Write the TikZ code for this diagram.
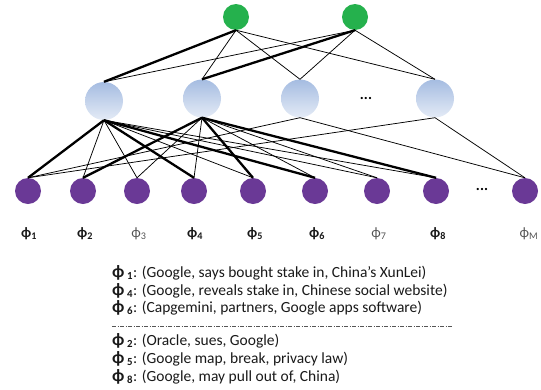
\documentclass[tikz,border=0pt]{standalone}
\usepackage{fontspec}
\setmainfont{Carlito}
\definecolor{topgreen}{RGB}{37,177,77}
\definecolor{wordpurple}{RGB}{106,57,150}
\definecolor{bluetop}{RGB}{165,188,225}
\definecolor{bluebot}{RGB}{228,235,246}
\definecolor{txt}{RGB}{25,25,25}
\definecolor{lbgrey}{RGB}{85,85,85}
\tikzset{
  topnode/.style={circle,fill=topgreen,minimum size=26pt,inner sep=0pt,draw=none},
  topicnode/.style={circle,top color=bluetop,bottom color=bluebot,minimum size=38pt,inner sep=0pt,draw=none},
  wordnode/.style={circle,fill=wordpurple,minimum size=26pt,inner sep=0pt,draw=none},
  thin edge/.style={line width=0.75pt,black},
  thick edge/.style={line width=2.3pt,black},
  lab/.style={font=\fontsize{14.5}{16}\selectfont\bfseries,text=txt,inner sep=0pt},
  labg/.style={font=\fontsize{14.5}{16}\selectfont,text=lbgrey,inner sep=0pt},
  legend/.style={font=\fontsize{15.5}{18}\selectfont,text=txt,anchor=base west,inner sep=0pt},
  dotsnode/.style={font=\fontsize{15}{16}\selectfont\bfseries,inner sep=0pt}
}
\newcommand{\phisub}[1]{ϕ\textsubscript{#1}}
\newcommand{\bigphi}{{\fontsize{17.5}{18}\selectfont ϕ}}
\begin{document}
\begin{tikzpicture}[x=1pt,y=-1pt]
\useasboundingbox (0,0) rectangle (541,389);
% top nodes
\node[topnode] (g1) at (236,17) {};
\node[topnode] (g2) at (355,17) {};
% topic nodes
\node[topicnode] (b1) at (104,101) {};
\node[topicnode] (b2) at (202,98.5) {};
\node[topicnode] (b3) at (300,98.5) {};
\node[topicnode] (b4) at (435,98.5) {};
\node[dotsnode] (bdots) at (366,98) {...};
% word nodes
\node[wordnode] (p1) at (28,191) {};
\node[wordnode] (p2) at (83,191) {};
\node[wordnode] (p3) at (137,191) {};
\node[wordnode] (p4) at (194,191) {};
\node[wordnode] (p5) at (253,191) {};
\node[wordnode] (p6) at (315,191) {};
\node[wordnode] (p7) at (377,191) {};
\node[wordnode] (p8) at (436,191) {};
\node[wordnode] (pM) at (525,191) {};
\node[dotsnode] (pdots) at (482,189) {...};
% labels
\node[lab] (l1) at (29,234) {\phisub{1}};
\node[lab] (l2) at (85,234) {\phisub{2}};
\node[labg] (l3) at (139,234) {\phisub{3}};
\node[lab] (l4) at (195,234) {\phisub{4}};
\node[lab] (l5) at (255,234) {\phisub{5}};
\node[lab] (l6) at (317,234) {\phisub{6}};
\node[labg] (l7) at (379,234) {\phisub{7}};
\node[lab] (l8) at (438,234) {\phisub{8}};
\node[labg] (lM) at (529,234) {\phisub{M}};
% top edges
\draw[thick edge] (g1.south) -- (b1.north);
\draw[thin edge] (g1.south) -- (b2.north);
\draw[thin edge] (g1.south) -- (b3.north);
\draw[thin edge] (g1.south) -- (b4.north);
\draw[thin edge] (g2.south) -- (b1.north);
\draw[thick edge] (g2.south) -- (b2.north);
\draw[thin edge] (g2.south) -- (b3.north);
\draw[thin edge] (g2.south) -- (b4.north);
% topic-word edges
\draw[thick edge] (b1.south) -- (p1.north);
\draw[thin edge] (b1.south) -- (p2.north);
\draw[thin edge] (b1.south) -- (p3.north);
\draw[thick edge] (b1.south) -- (p4.north);
\draw[thin edge] (b1.south) -- (p5.north);
\draw[thick edge] (b1.south) -- (p6.north);
\draw[thin edge] (b1.south) -- (p7.north);
\draw[thin edge] (b1.south) -- (p8.north);
\draw[thick edge] (b2.south) -- (p2.north);
\draw[thin edge] (b2.south) -- (p3.north);
\draw[thin edge] (b2.south) -- (p4.north);
\draw[thick edge] (b2.south) -- (p5.north);
\draw[thin edge] (b2.south) -- (p6.north);
\draw[thin edge] (b2.south) -- (p7.north);
\draw[thick edge] (b2.south) -- (p8.north);
\draw[thin edge] (b3.south) -- (p1.north);
\draw[thin edge] (b3.south) -- (pM.north);
\draw[thin edge] (b4.south) -- (p1.north);
\draw[thin edge] (b4.south) -- (pM.north);
% legend
\node[legend] (t1) at (112,277) {{\bfseries \bigphi\,\textsubscript{1}}: (Google, says bought stake in, China’s XunLei)};
\node[legend] (t2) at (112,295) {{\bfseries \bigphi\,\textsubscript{4}}: (Google, reveals stake in, Chinese social website)};
\node[legend] (t3) at (112,312.5) {{\bfseries \bigphi\,\textsubscript{6}}: (Capgemini, partners, Google apps software)};
\coordinate (dl) at (112,326);
\coordinate (dr) at (453,326);
\draw[lbgrey,line width=0.6pt,dash pattern=on 4pt off 1.5pt on 1pt off 1.5pt] (dl) -- (dr);
\node[legend] (t4) at (112,345) {{\bfseries \bigphi\,\textsubscript{2}}: (Oracle, sues, Google)};
\node[legend] (t5) at (112,363) {{\bfseries \bigphi\,\textsubscript{5}}: (Google map, break, privacy law)};
\node[legend] (t6) at (112,381) {{\bfseries \bigphi\,\textsubscript{8}}: (Google, may pull out of, China)};
\end{tikzpicture}
\end{document}
